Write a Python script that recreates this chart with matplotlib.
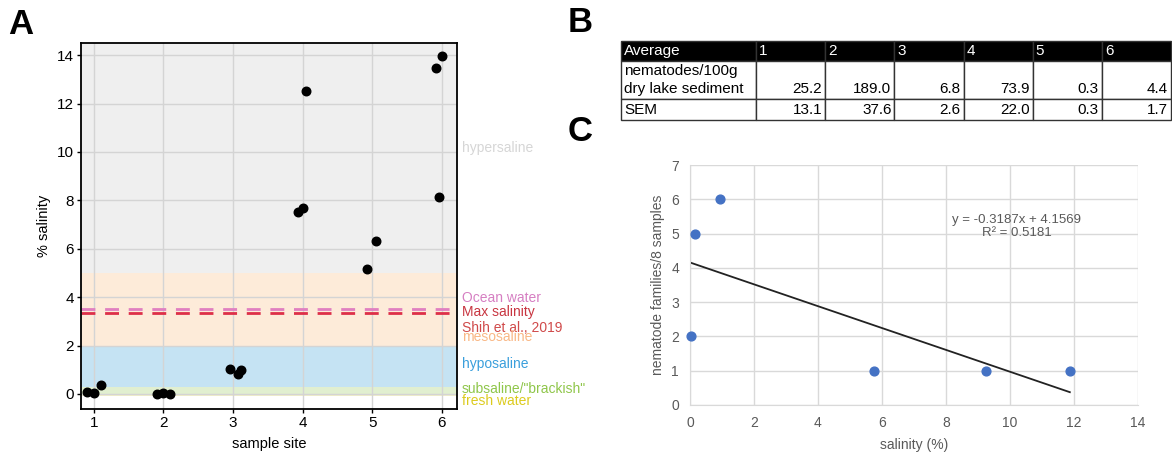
import matplotlib.pyplot as plt
import numpy as np

plt.rcParams['font.family'] = ['Liberation Sans', 'DejaVu Sans']

# Panel A: salinity per sample site
site_x = [0.9, 1.0, 1.1, 1.9, 2.0, 2.1, 2.95, 3.07, 3.12, 3.93, 4.0, 4.05, 4.93, 5.05, 5.92, 5.96, 6.0]
salinity = [0.1, 0.05, 0.38, 0.0, 0.05, 0.02, 1.02, 0.82, 1.0, 7.5, 7.7, 12.5, 5.15, 6.3, 13.45, 8.15, 13.95]

# salinity classes: (low, high, colour)
bands = [
    (-0.1, 0.0, '#f3f0c8'),
    (0.0, 0.3, '#e1efd0'),
    (0.3, 2.0, '#c5e3f3'),
    (2.0, 5.0, '#fdebd9'),
    (5.0, 14.5, '#efefef'),
]
band_labels = ['hypersaline', 'Ocean water', 'Max salinity', 'Shih et al., 2019',
               'mesosaline', 'hyposaline', 'subsaline/"brackish"', 'fresh water']
band_label_y = [10.15, 3.95, 3.38, 2.72, 2.35, 1.22, 0.22, -0.28]
band_label_col = ['#d6d6d6', '#d67fc2', '#c83540', '#d04a4a', '#f9b886', '#3a9fdc', '#8fc64a', '#dccb1e']
ocean_water = 3.5
max_salinity = 3.35

# Panel B: table
table_cols = ['Average', '1', '2', '3', '4', '5', '6']
nematodes = [25.2, 189.0, 6.8, 73.9, 0.3, 4.4]
sem = [13.1, 37.6, 2.6, 22.0, 0.3, 1.7]

# Panel C: families vs salinity
c_salinity = [0.03, 0.17, 0.94, 5.75, 9.25, 11.87]
c_families = [2, 5, 6, 1, 1, 1]
slope, intercept, r2 = -0.3187, 4.1569, 0.5181

W, H = 1172, 457
fig = plt.figure(figsize=(W / 100, H / 100), dpi=100)

# ---- A ----
axA = fig.add_axes([80.7 / W, 1 - 409 / H, (457 - 80.7) / W, (409 - 43) / H])
for lo, hi, col in bands:
    axA.axhspan(lo, hi, color=col, lw=0, zorder=0)
axA.set_xlim(0.81, 6.22)
axA.set_ylim(-0.62, 14.5)
axA.set_xticks(range(1, 7))
axA.set_yticks(range(0, 15, 2))
axA.grid(True, color='#d4d4d4', lw=1, zorder=1)
axA.set_axisbelow(True)
axA.axhline(ocean_water, color='#e07fc0', lw=2, ls=(0, (5, 3.5)), zorder=2)
axA.axhline(max_salinity, color='#dd2f48', lw=2, ls=(0, (5, 3.5)), zorder=2)
axA.scatter(site_x, salinity, s=38, color='black', zorder=3)
for lab, yy, col in zip(band_labels, band_label_y, band_label_col):
    axA.text(1.013, yy, lab, transform=axA.get_yaxis_transform(), color=col,
             fontsize=10, va='center', ha='left', clip_on=False,
             family=['Liberation Sans Narrow', 'Liberation Sans'])
for s in axA.spines.values():
    s.set_linewidth(1.3)
axA.tick_params(length=3, width=1, labelsize=11, pad=2)
axA.set_xlabel('sample site', fontsize=10.5, labelpad=5)
axA.set_ylabel('% salinity', fontsize=10.5, labelpad=4)

# ---- B ----
axB = fig.add_axes([621 / W, 1 - 120 / H, 550 / W, 79 / H])
axB.axis('off')
cells = [['nematodes/100g\ndry lake sediment'] + ['\n%.1f' % v for v in nematodes],
         ['SEM'] + ['%.1f' % v for v in sem]]
col_w = [135] + [69] * 6
tab = axB.table(cellText=cells, colLabels=table_cols, colWidths=col_w,
                bbox=[0, 0, 1, 1], cellLoc='right')
tab.auto_set_font_size(False)
tab.set_fontsize(11)
row_h = [20, 38, 21]
for (r, c), cell in tab.get_celld().items():
    cell.set_height(row_h[r])
    cell.set_linewidth(1.0)
    cell.set_edgecolor('#333333')
    cell.PAD = 3.0 / col_w[c]
    txt = cell.get_text()
    if r == 0:
        cell.set_facecolor('black')
        txt.set_color('white')
        txt.set_ha('left')
        cell._loc = 'left'
    elif c == 0:
        txt.set_ha('left')
        cell._loc = 'left'
    txt.set_linespacing(1.3)

# ---- C ----
axC = fig.add_axes([690 / W, 1 - 405 / H, 448 / W, 240 / H])
axC.set_xlim(0, 14)
axC.set_ylim(0, 7)
axC.set_xticks(range(0, 15, 2))
axC.set_yticks(range(0, 8))
axC.grid(True, color='#d9d9d9', lw=1)
axC.set_axisbelow(True)
for k in ['top', 'right']:
    axC.spines[k].set_visible(False)
for k in ['left', 'bottom']:
    axC.spines[k].set_color('#d9d9d9')
axC.tick_params(length=0, labelsize=10, labelcolor='#595959', pad=8)
xfit = np.array([0, max(c_salinity)])
axC.plot(xfit, slope * xfit + intercept, color='#222222', lw=1.3, zorder=2)
axC.scatter(c_salinity, c_families, s=40, color='#4472c4', zorder=3, clip_on=False)
axC.text(10.2, 5.2, 'y = %.4fx + %.4f\nR² = %.4f' % (slope, intercept, r2),
         ha='center', va='center', fontsize=9.5, color='#595959', linespacing=1.1)
axC.set_xlabel('salinity (%)', fontsize=10, color='#595959', labelpad=6)
axC.set_ylabel('nematode families/8 samples', fontsize=10, color='#595959', labelpad=4)

# panel letters
for lab, x, y in [('A', 8, 8), ('B', 568, 6), ('C', 568, 115)]:
    fig.text(x / W, 1 - y / H, lab, fontsize=25, fontweight='bold', va='top', ha='left')

fig.savefig('out.png', dpi=100)
